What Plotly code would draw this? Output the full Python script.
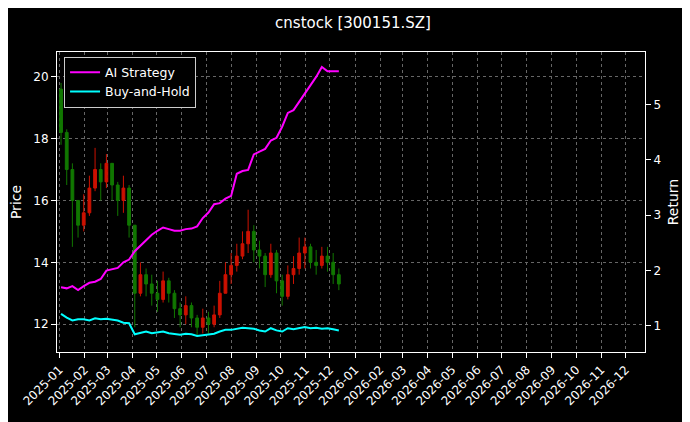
import plotly.graph_objects as go
import pandas as pd

dates = pd.date_range("2025-01-03", periods=50, freq="W-FRI")
close = [18.2,17.0,16.0,15.2, 15.6,16.4,17.0,16.6, 17.2,16.5,16.0,16.4, 15.2,13.0,13.6,13.3, 13.0,12.8,13.4,13.0, 12.5,12.3,12.6,12.2, 11.9,12.2,12.0,12.3,13.0, 13.6,13.9,14.2,14.6, 15.0,14.4,14.2,13.6, 14.3,13.4,12.9,13.6,13.8, 14.3,14.5,14.0,13.9,14.2, 14.0,13.6,13.3]
open_ = [19.6] + close[:-1]
high = [19.8,18.3,17.2,16.0, 16.2,16.8,17.7,17.2, 17.5,17.2,16.6,16.8, 16.5,15.2,14.0,13.8, 13.6,13.4,13.7,13.5, 13.1,12.7,12.9,12.7, 12.3,12.5,12.4,12.6,13.4, 14.0,14.3,14.6,15.0, 15.7,15.2,14.7,14.3, 14.6,14.4,13.6,13.9,14.2, 14.8,14.8,14.6,14.4,14.5, 14.5,14.3,13.8]
low = [17.8,16.5,14.5,14.8, 15.0,15.5,16.3,16.0, 16.4,16.0,15.5,15.6, 14.8,11.9,12.9,12.9, 12.6,12.4,12.7,12.7, 12.2,11.9,12.0,11.9, 11.6,11.7,11.7,11.9,12.2, 13.0,13.3,13.7,14.1, 14.3,14.0,13.8,13.2, 13.5,13.0,12.6,12.8,13.3, 13.6,13.8,13.8,13.6,13.8, 13.7,13.3,13.1]
ai_ret = [1.70,1.68,1.72,1.65, 1.72,1.78,1.80,1.85, 2.0,2.02,2.05,2.15, 2.20,2.35,2.45,2.55, 2.65,2.72,2.78,2.75, 2.72,2.72,2.75,2.76, 2.80,2.95,3.05,3.20,3.22, 3.30,3.35,3.75,3.80, 3.82,4.10,4.15,4.20, 4.35,4.40,4.60,4.85,4.90, 5.05,5.20,5.35,5.50,5.68, 5.60,5.60,5.60]
bh_ret = [1.22,1.15,1.10,1.12, 1.12,1.10,1.14,1.12, 1.13,1.12,1.10,1.06, 1.05,0.85,0.88,0.90, 0.87,0.88,0.90,0.87, 0.86,0.84,0.86,0.85, 0.82,0.83,0.84,0.86,0.90, 0.93,0.93,0.95,0.97, 0.96,0.95,0.92,0.90, 0.96,0.92,0.90,0.96,0.94, 0.96,0.98,0.96,0.97,0.95, 0.96,0.94,0.92]

fig = go.Figure()
fig.add_trace(go.Candlestick(x=dates, open=open_, high=high, low=low, close=close,
    increasing=dict(line=dict(color="#cc1100", width=1), fillcolor="#cc1100"),
    decreasing=dict(line=dict(color="#117700", width=1), fillcolor="#117700"),
    showlegend=False, whiskerwidth=0))
fig.add_trace(go.Scatter(x=dates, y=ai_ret, name="AI Strategy", yaxis="y2",
    mode="lines", line=dict(color="#ff00ff", width=2)))
fig.add_trace(go.Scatter(x=dates, y=bh_ret, name="Buy-and-Hold", yaxis="y2",
    mode="lines", line=dict(color="#00ffff", width=2)))

grid = dict(showgrid=True, gridcolor="#666", griddash="dot", gridwidth=0.6)
fig.update_layout(
    width=690, height=422, paper_bgcolor="black", plot_bgcolor="black",
    font=dict(family="DejaVu Sans", color="white", size=12),
    title=dict(text="cnstock [300151.SZ]", x=0.5, xanchor="center", y=0.965, yanchor="middle", font=dict(size=15)),
    margin=dict(l=49, r=53, t=44, b=78, autoexpand=False),
    showlegend=True,
    legend=dict(x=0.012, y=0.985, xanchor="left", yanchor="top", bgcolor="black",
                bordercolor="#ccc", borderwidth=1, font=dict(size=12.5)),
    xaxis=dict(type="date", range=["2024-12-29", "2026-12-25"], dtick="M1", tickformat="%Y-%m",
               tickangle=-45, rangeslider=dict(visible=False), showline=True, mirror=True,
               linecolor="white", ticks="outside", tickcolor="white", automargin=False, **grid),
    yaxis=dict(title=dict(text="Price", standoff=8), range=[11.1, 20.8], dtick=2, showline=True,
               linecolor="white", ticks="outside", tickcolor="white", automargin=False, **grid),
    yaxis2=dict(title=dict(text="Return", standoff=8), overlaying="y", side="right",
                range=[0.53, 5.95], dtick=1, showgrid=False, showline=True, linecolor="white",
                ticks="outside", tickcolor="white", automargin=False),
)
fig.write_html("out.html")
